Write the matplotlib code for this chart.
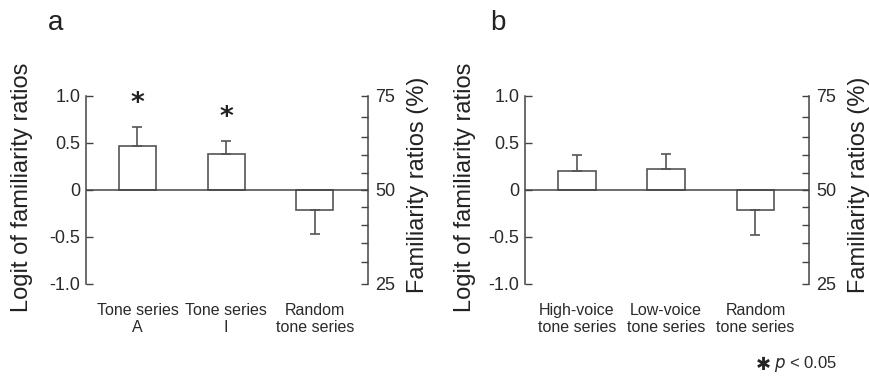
import numpy as np
import matplotlib
matplotlib.use("Agg")
import matplotlib.pyplot as plt

plt.rcParams['font.family'] = ['Liberation Sans', 'DejaVu Sans']

cats_a = ["Tone series\nA", "Tone series\nI", "Random\ntone series"]
vals_a = [0.47, 0.386, -0.216]
errs_a = [0.20, 0.134, 0.254]
sig_a = [True, True, False]

cats_b = ["High-voice\ntone series", "Low-voice\ntone series", "Random\ntone series"]
vals_b = [0.199, 0.22, -0.21]
errs_b = [0.17, 0.166, 0.27]
sig_b = [False, False, False]

pct_ticks = [25, 30, 35, 40, 45, 50, 55, 60, 65, 70, 75]
pct_labels = ["25", "", "", "", "", "50", "", "", "", "", "75"]
left_ticks = [-1.0, -0.5, 0, 0.5, 1.0]
left_labels = ["-1.0", "-0.5", "0", "0.5", "1.0"]

C = "#444444"
TC = "#2a2a2a"

fig = plt.figure(figsize=(8.7, 3.76), dpi=100)

def logit_scaled(p):
    p = np.asarray(p, dtype=float) / 100.0
    return np.log(p / (1 - p)) / np.log(0.75 / 0.25)

def panel(rect, cats, vals, errs, sig, letter, lx, rx, letter_x):
    ax = fig.add_axes(rect)
    x = np.arange(len(cats))
    for xi, v, e in zip(x, vals, errs):
        ax.bar(xi, v, width=0.42, color="white", edgecolor="#555555", linewidth=1.2, zorder=2)
        ax.errorbar(xi, v, yerr=[[0] if v > 0 else [e], [e] if v > 0 else [0]],
                    fmt="none", ecolor="#555555", elinewidth=1.2, capsize=3.5, capthick=1.2, zorder=3)
    ax.axhline(0, color=C, lw=1.1, zorder=4)
    for xi, v, e, s in zip(x, vals, errs, sig):
        if s:
            ax.text(xi, v + e + 0.24, "*", ha="center", va="center", fontsize=19,
                    color="#222222", fontweight="bold", family="DejaVu Sans", clip_on=False)
    ax.set_xlim(-0.58, 2.6)
    ax.set_ylim(-1.0, 1.0)
    ax.set_xticks(x)
    ax.set_xticklabels(cats, fontsize=11.5, color=TC, linespacing=1.15)
    for lbl in ax.get_xticklabels():
        lbl.set_multialignment("center")
    ax.tick_params(axis="x", length=0, pad=14)
    ax.set_yticks(left_ticks)
    ax.set_yticklabels(left_labels, fontsize=13, color=TC)
    ax.tick_params(axis="y", direction="in", length=5, width=1, color=C, pad=4)
    for s in ["top", "bottom", "right"]:
        ax.spines[s].set_visible(False)
    ax.spines["left"].set_color(C)
    ax.spines["left"].set_linewidth(1.1)
    ax.set_ylabel("Logit of familiarity ratios", fontsize=17, color="#222222")
    ax.yaxis.label.set_verticalalignment("center")
    ax.yaxis.set_label_coords(lx, 0.515)

    ax2 = ax.twinx()
    ax2.set_ylim(-1.0, 1.0)
    ax2.set_yticks(logit_scaled(pct_ticks))
    ax2.set_yticklabels(pct_labels, fontsize=13, color=TC)
    ax2.tick_params(axis="y", direction="in", length=5, width=1, color=C, pad=5)
    for s in ["top", "bottom", "left"]:
        ax2.spines[s].set_visible(False)
    ax2.spines["right"].set_color(C)
    ax2.spines["right"].set_linewidth(1.1)
    ax2.set_ylabel("Familiarity ratios (%)", fontsize=17, color="#222222")
    ax2.yaxis.label.set_verticalalignment("center")
    ax2.yaxis.set_label_coords(rx, 0.525)
    fig.text(letter_x, 0.94, letter, fontsize=20, color="#222222", va="center", ha="center")
    return ax

panel([0.0989, 0.2447, 0.3241, 0.5003], cats_a, vals_a, errs_a, sig_a, "a", -0.227, 1.177, 56 / 870)
panel([0.6034, 0.2447, 0.3266, 0.5003], cats_b, vals_b, errs_b, sig_b, "b", -0.211, 1.176, 498 / 870)

fig.text(763 / 870, 0.03, "\u2731", fontsize=13, family="DejaVu Sans", ha="center", va="center", color="#222222")
fig.text(774 / 870, 0.032, r"$\it{p}$ < 0.05", fontsize=12, ha="left", va="center", color=TC)

fig.savefig("out.png", dpi=100)
